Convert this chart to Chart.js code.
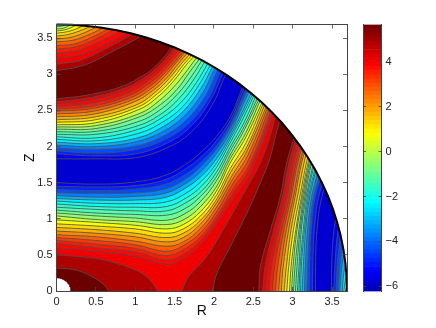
<!DOCTYPE html>
<html>
<head>
<meta charset="utf-8">
<title>R-Z contour</title>
<script src="https://cdn.jsdelivr.net/npm/chart.js@4/dist/chart.umd.min.js"></script>
<style>
  html, body { margin: 0; padding: 0; background: #fff; }
  #wrap { position: relative; width: 436px; height: 328px; }
  canvas { position: absolute; top: 0; }
  #field { left: 0; }
  #cbar { left: 340px; }
</style>
</head>
<body>
<div id="wrap">
  <canvas id="field" width="436" height="328"></canvas>
  <canvas id="cbar" width="96" height="328"></canvas>
</div>
<script>
// eixos e ticks
const rTicks = [0, 0.5, 1, 1.5, 2, 2.5, 3, 3.5];
const zTicks = [0, 0.5, 1, 1.5, 2, 2.5, 3, 3.5];
const cbarTicks = [-6, -4, -2, 0, 2, 4];
const cbarRange = [-6.23, 5.67];
const axisMax = 3.69;

// posicao de cada nivel (indice = nivel de contorno, 0 = azul ... 22 = vinho), lida da figura
// flanco entre a crista junto a origem e o vale azul: pares R,Z
const innerFlank = [
  [0,1.5, .5,1.48, 1,1.51, 1.4,1.61, 1.7,1.8, 1.85,1.94, 2,2.1, 2.21,2.42, 2.36,2.815, 2.46,3.05],
  [0,1.45, .5,1.44, 1,1.46, 1.4,1.55, 1.69,1.73, 1.85,1.87, 2,2.04, 2.21,2.37, 2.36,2.76, 2.47,3.02],
  [0,1.405, .5,1.39, 1,1.41, 1.4,1.485, 1.69,1.65, 1.85,1.8, 2.01,1.98, 2.21,2.31, 2.37,2.7, 2.49,2.98],
  [0,1.36, .5,1.35, 1,1.36, 1.4,1.42, 1.68,1.58, 1.84,1.73, 2.01,1.93, 2.21,2.26, 2.37,2.64, 2.5,2.95],
  [0,1.32, .5,1.3, 1,1.31, 1.4,1.36, 1.67,1.51, 1.84,1.66, 2.01,1.87, 2.21,2.2, 2.37,2.58, 2.51,2.91],
  [0,1.28, .5,1.26, 1,1.26, 1.4,1.3, 1.66,1.44, 1.84,1.59, 2.02,1.81, 2.21,2.15, 2.38,2.52, 2.53,2.88],
  [0,1.245, .5,1.215, 1,1.21, 1.4,1.235, 1.655,1.36, 1.84,1.52, 2.02,1.75, 2.2,2.09, 2.38,2.47, 2.54,2.84],
  [0,1.205, .5,1.17, 1,1.16, 1.4,1.17, 1.65,1.29, 1.84,1.45, 2.02,1.69, 2.2,2.04, 2.38,2.41, 2.55,2.81],
  [0,1.16, .5,1.13, 1,1.11, 1.4,1.11, 1.64,1.22, 1.84,1.38, 2.03,1.64, 2.2,1.98, 2.39,2.35, 2.56,2.77],
  [0,1.12, .5,1.08, 1,1.06, 1.4,1.05, 1.63,1.14, 1.83,1.31, 2.03,1.58, 2.2,1.93, 2.39,2.29, 2.58,2.74],
  [0,1.08, .5,1.04, 1,1.01, 1.4,.98, 1.63,1.07, 1.83,1.24, 2.03,1.52, 2.2,1.87, 2.39,2.24, 2.59,2.7],
  [0,1.04, .5,.99, 1,.96, 1.4,.92, 1.62,.99, 1.83,1.17, 2.04,1.46, 2.2,1.82, 2.4,2.18, 2.6,2.67],
  [0,.985, .5,.95, 1,.91, 1.4,.86, 1.61,.92, 1.83,1.1, 2.04,1.4, 2.2,1.76, 2.4,2.12, 2.62,2.63],
  [0,.93, .5,.9, 1,.86, 1.4,.8, 1.61,.86, 1.83,1.04, 2.04,1.34, 2.21,1.7, 2.41,2.06, 2.64,2.63],
  [0,.88, .5,.85, 1,.8, 1.4,.74, 1.61,.8, 1.83,.98, 2.04,1.28, 2.21,1.64, 2.42,2, 2.66,2.62],
  [0,.83, .5,.8, 1,.75, 1.4,.68, 1.61,.74, 1.83,.93, 2.04,1.23, 2.22,1.58, 2.42,1.94, 2.69,2.62],
  [0,.78, .5,.75, 1,.69, 1.4,.62, 1.61,.68, 1.83,.87, 2.04,1.17, 2.22,1.52, 2.43,1.88, 2.71,2.62],
  [0,.74, .5,.7, 1,.64, 1.4,.55, 1.61,.63, 1.83,.81, 2.04,1.11, 2.23,1.47, 2.44,1.82, 2.73,2.61],
  [0,.7, .5,.65, 1,.59, 1.4,.49, 1.61,.57, 1.83,.75, 2.04,1.05, 2.24,1.41, 2.45,1.75, 2.76,2.61],
  [0,.66, .5,.6, 1,.54, 1.4,.43, 1.61,.51, 1.83,.7, 2.04,1, 2.24,1.35, 2.45,1.69, 2.78,2.6],
  [0,.6, .5,.55, 1,.48, 1.4,.37, 1.61,.45, 1.83,.64, 2.04,.94, 2.25,1.29, 2.46,1.63, 2.8,2.6]
];
// niveis 21 e 22 fecham sobre o eixo Z=0: uma ilha na origem e a crista a direita
const originIsland = [
  [0,.5, .35,.47, .64,.42, 1.06,.26, 1.22,.11, 1.28,0],
  [0,.32, .25,.29, .45,.2, .6,.09, .66,0]
];
const ridgeLeft = [
  [1.59,0, 1.68,.2, 1.89,.45, 2.12,.85, 2.31,1.22, 2.5,1.59, 2.6,1.8, 2.7,2.1, 2.78,2.42, 2.85,2.75],
  [1.98,0, 2.04,.25, 2.21,.62, 2.42,1.08, 2.59,1.5, 2.7,1.8, 2.84,2.37, 2.93,2.6]
];
// flanco superior do vale azul, do eixo R=0 ate a parede
const valleyUpper = [
  [0,1.83, .5,1.83, 1,1.845, 1.4,1.98, 1.7,2.19, 1.97,2.56, 2.14,2.98, 2.26,3.25],
  [0,1.9, .5,1.87, 1.01,1.9, 1.39,2.04, 1.68,2.25, 1.94,2.61, 2.11,3, 2.23,3.27],
  [0,1.94, .5,1.91, 1.01,1.96, 1.38,2.1, 1.67,2.31, 1.92,2.65, 2.08,3.03, 2.2,3.28],
  [0,1.98, .5,1.96, 1.02,2.01, 1.38,2.16, 1.65,2.37, 1.89,2.7, 2.04,3.05, 2.16,3.3],
  [0,2.02, .5,2, 1.02,2.07, 1.37,2.22, 1.63,2.43, 1.86,2.75, 2.01,3.08, 2.13,3.32],
  [0,2.06, .5,2.04, 1.03,2.12, 1.36,2.28, 1.61,2.49, 1.83,2.8, 1.98,3.1, 2.1,3.34],
  [0,2.1, .5,2.08, 1.03,2.18, 1.35,2.34, 1.6,2.55, 1.8,2.84, 1.95,3.12, 2.07,3.35],
  [0,2.135, .5,2.12, 1.04,2.24, 1.34,2.4, 1.58,2.61, 1.78,2.89, 1.92,3.15, 2.04,3.37],
  [0,2.17, .5,2.17, 1.04,2.29, 1.34,2.46, 1.56,2.67, 1.75,2.94, 1.88,3.17, 2,3.39],
  [0,2.205, .5,2.21, 1.05,2.35, 1.33,2.52, 1.54,2.73, 1.72,2.98, 1.85,3.2, 1.97,3.4],
  [0,2.24, .5,2.25, 1.05,2.41, 1.32,2.58, 1.53,2.79, 1.69,3.03, 1.82,3.22, 1.94,3.42],
  [0,2.27, .5,2.29, 1.06,2.46, 1.31,2.64, 1.51,2.85, 1.67,3.07, 1.79,3.25, 1.91,3.43],
  [0,2.3, .5,2.33, 1.06,2.52, 1.3,2.7, 1.49,2.91, 1.64,3.12, 1.76,3.27, 1.88,3.45],
  [0,2.335, .49,2.37, 1.04,2.55, 1.28,2.73, 1.46,2.92, 1.61,3.13, 1.73,3.28, 1.85,3.46],
  [0,2.37, .49,2.41, 1.02,2.58, 1.25,2.75, 1.43,2.94, 1.58,3.14, 1.7,3.29, 1.82,3.47],
  [0,2.41, .48,2.45, .99,2.62, 1.23,2.78, 1.4,2.95, 1.55,3.15, 1.67,3.31, 1.79,3.48],
  [0,2.45, .47,2.49, .97,2.65, 1.2,2.8, 1.37,2.97, 1.52,3.16, 1.64,3.32, 1.76,3.49],
  [0,2.49, .47,2.53, .95,2.68, 1.18,2.83, 1.34,2.98, 1.5,3.17, 1.62,3.33, 1.73,3.5],
  [0,2.52, .46,2.56, .93,2.71, 1.16,2.86, 1.31,2.99, 1.47,3.18, 1.59,3.34, 1.7,3.51],
  [0,2.55, .45,2.6, .91,2.74, 1.13,2.88, 1.28,3.01, 1.44,3.19, 1.56,3.35, 1.67,3.52],
  [0,2.58, .44,2.64, .89,2.78, 1.11,2.91, 1.25,3.02, 1.41,3.2, 1.53,3.37, 1.64,3.53],
  [0,2.62, .44,2.68, .87,2.81, 1.08,2.93, 1.22,3.04, 1.38,3.21, 1.5,3.38, 1.61,3.54],
  [0,2.66, .43,2.72, .85,2.84, 1.06,2.96, 1.19,3.05, 1.35,3.22, 1.47,3.39, 1.58,3.55]
];
// flanco acima da crista superior: so existe do nivel 10 para cima
const capFirstLevel = 10;
const capFlank = [
  [0,3.66, .05,3.665, .1,3.68, .2,3.72],
  [0,3.63, .08,3.635, .17,3.68, .3,3.73],
  [0,3.6, .12,3.62, .25,3.68, .4,3.75],
  [0,3.57, .11,3.585, .23,3.62, .34,3.675, .5,3.75],
  [0,3.53, .14,3.55, .29,3.6, .43,3.665, .6,3.75],
  [0,3.49, .17,3.51, .34,3.57, .51,3.655, .7,3.75],
  [0,3.45, .2,3.47, .39,3.54, .59,3.64, .8,3.75],
  [0,3.4, .22,3.42, .44,3.51, .66,3.63, .85,3.74],
  [0,3.35, .24,3.38, .48,3.48, .72,3.62, .9,3.73],
  [0,3.29, .27,3.33, .54,3.45, .81,3.6, 1,3.72],
  [0,3.22, .3,3.27, .61,3.41, .91,3.58, 1.1,3.7],
  [0,3.14, .32,3.2, .65,3.37, .97,3.56, 1.17,3.7],
  [0,3.05, .36,3.13, .72,3.32, 1.08,3.53, 1.3,3.68]
];
// flanco direito da crista: R de cada nivel nestas alturas Z
const outerZ = [0, .34, .85, 1.3, 1.8, 2.3];
const outerFlank = [
  [3.29, 3.29, 3.31, 3.37, 3.52, 3.63],
  [3.25, 3.255, 3.275, 3.33, 3.47, 3.58],
  [3.21, 3.215, 3.235, 3.285, 3.425, 3.535],
  [3.18, 3.19, 3.215, 3.265, 3.395, 3.505],
  [3.15, 3.16, 3.19, 3.24, 3.36, 3.47],
  [3.12, 3.135, 3.165, 3.215, 3.325, 3.435],
  [3.1, 3.11, 3.15, 3.2, 3.31, 3.42],
  [3.08, 3.095, 3.135, 3.185, 3.285, 3.395],
  [3.06, 3.08, 3.11, 3.17, 3.27, 3.38],
  [3.035, 3.055, 3.095, 3.155, 3.245, 3.365],
  [3.01, 3.03, 3.08, 3.14, 3.23, 3.35],
  [2.985, 3.005, 3.055, 3.125, 3.215, 3.335],
  [2.96, 2.98, 3.04, 3.11, 3.2, 3.32],
  [2.925, 2.95, 3.01, 3.09, 3.18, 3.3],
  [2.89, 2.92, 2.98, 3.06, 3.15, 3.27],
  [2.855, 2.88, 2.95, 3.03, 3.12, 3.25],
  [2.82, 2.85, 2.92, 3.01, 3.1, 3.23],
  [2.78, 2.81, 2.89, 2.98, 3.07, 3.21],
  [2.74, 2.77, 2.86, 2.96, 3.05, 3.19],
  [2.7, 2.73, 2.83, 2.93, 3.02, 3.16],
  [2.66, 2.69, 2.8, 2.9, 2.99, 3.13],
  [2.62, 2.65, 2.76, 2.87, 2.96, 3.1],
  [2.57, 2.59, 2.72, 2.84, 2.93, 3.07]
];
// canto inferior direito, niveis 0 a 7
const cornerFlank = [
  [3.49,0, 3.5,.5, 3.52,.8, 3.56,1.1],
  [3.52,0, 3.54,.4, 3.56,.7, 3.6,1],
  [3.55,0, 3.57,.4, 3.6,.7, 3.63,.9],
  [3.58,0, 3.6,.35, 3.63,.6, 3.66,.75],
  [3.6,0, 3.62,.3, 3.65,.5, 3.68,.6],
  [3.63,0, 3.65,.25, 3.68,.4, 3.7,.5],
  [3.65,0, 3.67,.15, 3.7,.3, 3.72,.4],
  [3.67,0, 3.69,.08, 3.72,.2, 3.74,.3]
];
// parede e furo: raio e angulos em graus
const wallRadius = 3.69;
const holeRadius = 0.18;
const arcDegrees = [0,3,6,9,12,15,18,21,24,27,30,33,36,39,42,45,48,51,54,57,60,63,66,69,72,75,78,81,84,87,90];

// posicao de cada nivel no mapa jet
const levelShade = [.12,.16,.2,.25,.3,.36,.39,.42,.45,.48,.52,.57,.62,.66,.7,.74,.78,.82,.85,.87,.89,.955,1.02];

function jet(t) {
    const c = v => Math.round(255 * Math.max(0, Math.min(1, v)));
    return `rgb(${c(Math.min(4*t-1.5, 4.5-4*t))},${c(Math.min(4*t-0.5, 3.5-4*t))},${c(Math.min(4*t+0.5, 2.5-4*t))})`;
}
const levelColor = k => jet(levelShade[k]);
const baseColor = jet(0.08);
const lineColor = 'rgba(80,80,80,0.85)';

const toPoints = row => {
    const out = [];
    for (let i = 0; i < row.length; i += 2) out.push({x: row[i], y: row[i + 1]});
    return out;
};
const outerPoints = row => row.map((r, i) => ({x: r, y: outerZ[i]}));
const arcPoints = (radius, degrees) => degrees.map(d => ({
    x: radius * Math.cos(d * Math.PI / 180),
    y: radius * Math.sin(d * Math.PI / 180)
}));
// ponta repetida deixa a curva do preenchimento igual a do traco
const hold = c => [c[0], ...c, c[c.length - 1]];
const far = {x: 6, y: 6};

const datasets = [];
function addFill(points, color) {
    datasets.push({data: points, showLine: true, fill: 'shape', backgroundColor: color, borderWidth: 0,
        pointRadius: 0, tension: 0.4, capBezierPoints: false, clip: 0});
}
function addLine(points) {
    datasets.push({data: points, showLine: true, fill: false, borderColor: lineColor, borderWidth: 1,
        pointRadius: 0, tension: 0.4, capBezierPoints: false, clip: 0});
}

// fundo azul escuro
addFill([{x:-1,y:-1},{x:6,y:-1},{x:6,y:6},{x:-1,y:6}], baseColor);

// regioes acima de cada nivel, pintadas da menor para a maior
const strokes = [];
for (let k = 0; k < 23; k++) {
    const color = levelColor(k);
    const outer = outerPoints(outerFlank[k]);
    const below = {x: outer[0].x, y: -0.4};
    if (k <= 20) {
        const inner = toPoints(innerFlank[k]);
        addFill([{x:-0.4,y:inner[0].y}, ...hold(inner), far, ...hold(outer).reverse(), below, {x:-0.4,y:-0.4}], color);
        strokes.push(inner);
    } else {
        const island = toPoints(originIsland[k - 21]);
        const ridge = toPoints(ridgeLeft[k - 21]);
        addFill([{x:-0.4,y:island[0].y}, ...hold(island), {x:island[island.length-1].x,y:-0.4}, {x:-0.4,y:-0.4}], color);
        addFill([{x:ridge[0].x,y:-0.4}, ...hold(ridge), far, ...hold(outer).reverse(), below], color);
        strokes.push(island, ridge);
    }
    strokes.push(outer);

    const upper = toPoints(valleyUpper[k]);
    strokes.push(upper);
    if (k >= capFirstLevel) {
        const cap = toPoints(capFlank[k - capFirstLevel]);
        addFill([{x:-0.4,y:upper[0].y}, ...hold(upper), far, ...hold(cap).reverse(), {x:-0.4,y:cap[0].y}], color);
        strokes.push(cap);
    } else {
        addFill([{x:-0.4,y:upper[0].y}, ...hold(upper), far, {x:-0.4,y:6}], color);
    }
    if (k < cornerFlank.length) {
        const corner = toPoints(cornerFlank[k]);
        addFill([{x:corner[0].x,y:-0.4}, ...hold(corner), far, {x:6,y:-0.4}], color);
        strokes.push(corner);
    }
}
strokes.forEach(addLine);

// fora da parede fica branco, depois a parede e o furo
const wall = arcPoints(wallRadius, arcDegrees);
const hole = arcPoints(holeRadius, arcDegrees);
datasets.push({data: [...wall, {x:0,y:6}, {x:6,y:6}, {x:6,y:0}], showLine: true, fill: 'shape',
    backgroundColor: '#fff', borderWidth: 0, pointRadius: 0, clip: 0});
datasets.push({data: [{x:0,y:0}, ...hole], showLine: true, fill: 'shape', backgroundColor: '#fff',
    borderWidth: 0, pointRadius: 0, clip: 0});
datasets.push({data: wall, showLine: true, fill: false, borderColor: '#000', borderWidth: 2, pointRadius: 0, clip: false});
datasets.push({data: hole, showLine: true, fill: false, borderColor: 'rgba(0,0,0,0.5)', borderWidth: 0.7, pointRadius: 0, clip: 0});

// o ultimo dataset fica por cima
datasets.forEach((d, i) => { d.order = datasets.length - i; });

const axisColor = '#444';
const labelFont = {family: '"Liberation Sans", Arial, sans-serif', size: 11};
const pickTicks = values => scale => { scale.ticks = values.map(v => ({value: v})); };

function insideAxis(position, values, showLabels) {
    return {
        type: 'linear',
        position: position,
        min: 0,
        max: axisMax,
        afterBuildTicks: pickTicks(values),
        grid: {drawOnChartArea: false, tickLength: -4, tickColor: axisColor, tickWidth: 0.8, z: 2},
        border: {color: axisColor, width: 1, z: 2},
        ticks: {display: showLabels, padding: 8, color: '#222', font: labelFont, maxRotation: 0,
            autoSkip: false, callback: v => String(v)}
    };
}

const xAxis = insideAxis('bottom', rTicks, true);
xAxis.afterFit = s => { s.height = 37; };
xAxis.title = {display: true, text: 'R', color: '#111', font: {family: labelFont.family, size: 14}, padding: {top: 0, bottom: 8}};
const yAxis = insideAxis('left', zTicks, true);
yAxis.afterFit = s => { s.width = 56.5; };
yAxis.title = {display: true, text: 'Z', color: '#111', font: {family: labelFont.family, size: 14}, padding: {top: 22, bottom: 0}};
const xTop = insideAxis('top', rTicks, false);
xTop.afterFit = s => { s.height = 0; };
const yRight = insideAxis('right', zTicks, false);
yRight.afterFit = s => { s.width = 0; };

new Chart(document.getElementById('field'), {
    type: 'scatter',
    data: {datasets: datasets.map(d => Object.assign({xAxisID: 'x', yAxisID: 'y'}, d))},
    options: {
        responsive: false,
        animation: false,
        events: [],
        layout: {padding: {left: 0, right: 89, top: 24.5, bottom: 0}},
        plugins: {legend: {display: false}, tooltip: {enabled: false}},
        scales: {x: xAxis, y: yAxis, xTop: xTop, yRight: yRight}
    }
});

// barra de cores: 64 faixas do mapa jet
const cbarRows = Array.from({length: 64}, (_, i) => i);
const cbarStep = (cbarRange[1] - cbarRange[0]) / cbarRows.length;
new Chart(document.getElementById('cbar'), {
    type: 'bar',
    data: {
        labels: [''],
        datasets: cbarRows.map(i => ({
            data: [[cbarRange[0] + i * cbarStep, cbarRange[0] + (i + 1) * cbarStep]],
            backgroundColor: jet(0.05 + 0.97 * (i + 0.5) / cbarRows.length),
            borderWidth: 0,
            grouped: false,
            barPercentage: 1,
            categoryPercentage: 1
        }))
    },
    options: {
        responsive: false,
        animation: false,
        events: [],
        layout: {padding: {left: 23, right: 0, top: 24.5, bottom: 36.5}},
        plugins: {legend: {display: false}, tooltip: {enabled: false}},
        scales: {
            x: {display: false, grid: {display: false}},
            y: {
                type: 'linear', position: 'right', min: cbarRange[0], max: cbarRange[1],
                afterBuildTicks: pickTicks(cbarTicks),
                afterFit: s => { s.width = 54.5; },
                grid: {drawOnChartArea: false, tickLength: -3, tickColor: axisColor, tickWidth: 0.8, z: 2},
                border: {color: axisColor, width: 1, z: 2},
                ticks: {padding: 7, color: '#222', font: labelFont, autoSkip: false,
                    callback: v => String(v).replace('-', '\u2212')}
            },
            yLeft: {
                type: 'linear', position: 'left', min: cbarRange[0], max: cbarRange[1],
                afterBuildTicks: pickTicks(cbarTicks),
                afterFit: s => { s.width = 0; },
                grid: {drawOnChartArea: false, tickLength: -3, tickColor: axisColor, tickWidth: 0.8, z: 2},
                border: {color: axisColor, width: 1, z: 2},
                ticks: {display: false}
            }
        }
    }
});
</script>
</body>
</html>
